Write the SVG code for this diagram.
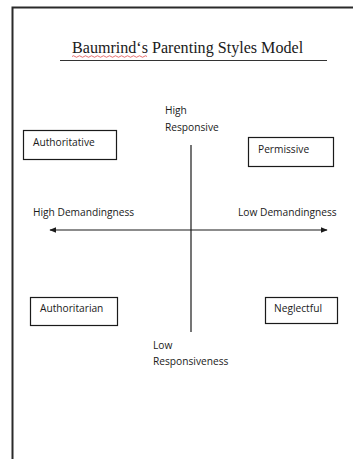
<svg xmlns="http://www.w3.org/2000/svg" width="353" height="459" viewBox="0 0 353 459">
  <style>
    .lbl { font-family: "Open Sans", "Liberation Sans", sans-serif; font-size: 10.2px; fill: #1a1a1a; }
    .box { fill: #ffffff; stroke: #1a1a1a; stroke-width: 1.2; }
    .axis { stroke: #1a1a1a; stroke-width: 1.2; fill: none; }
  </style>
  <defs>
    <marker id="arrow" viewBox="0 0 10 10" refX="9" refY="5" markerWidth="7" markerHeight="7" orient="auto-start-reverse" markerUnits="userSpaceOnUse">
      <path d="M0,1 L10,5 L0,9 Z" fill="#1a1a1a"/>
    </marker>
  </defs>
  <rect width="353" height="459" fill="#ffffff"/>
  <!-- page border -->
  <path d="M12.5,459 V7.5 H353" fill="none" stroke="#2a2a2a" stroke-width="2"/>

  <!-- title with spell-check squiggle under the name -->
  <g id="title">
    <text x="72" y="53" font-family="Liberation Serif, serif" font-size="16.1px" fill="#1a1a1a">Baumrind‘s Parenting Styles Model</text>
    <path d="M72,56.5 q1.5,-1.5 3,0 t3,0 t3,0 t3,0 t3,0 t3,0 t3,0 t3,0 t3,0 t3,0 t3,0 t3,0 t3,0 t3,0 t3,0 t3,0 t3,0 t3,0 t3,0 t3,0 t3,0 t3,0 t3,0 t3,0 t3,0" fill="none" stroke="#d33" stroke-width="0.7"/>
    <line x1="60" y1="60.5" x2="327" y2="60.5" stroke="#333" stroke-width="1.2"/>
  </g>

  <!-- axes -->
  <g id="connectors">
    <line class="axis" x1="191" y1="145" x2="191" y2="332"/>
    <line class="axis" x1="50" y1="230" x2="327" y2="230" marker-start="url(#arrow)" marker-end="url(#arrow)"/>
  </g>

  <g id="high-responsive">
    <text class="lbl" x="165" y="114">High</text>
    <text class="lbl" x="165" y="131">Responsive</text>
  </g>
  <g id="low-responsiveness">
    <text class="lbl" x="153" y="349">Low</text>
    <text class="lbl" x="153" y="365">Responsiveness</text>
  </g>
  <g id="high-demandingness">
    <text class="lbl" x="33" y="216">High Demandingness</text>
  </g>
  <g id="low-demandingness">
    <text class="lbl" x="238" y="216">Low Demandingness</text>
  </g>

  <g id="authoritative">
    <rect class="box" x="23.5" y="130.5" width="93" height="29"/>
    <text class="lbl" x="33" y="146">Authoritative</text>
  </g>
  <g id="permissive">
    <rect class="box" x="248.5" y="137.5" width="85" height="29"/>
    <text class="lbl" x="258" y="153">Permissive</text>
  </g>
  <g id="authoritarian">
    <rect class="box" x="30.5" y="297.5" width="87" height="28"/>
    <text class="lbl" x="40" y="312">Authoritarian</text>
  </g>
  <g id="neglectful">
    <rect class="box" x="265.5" y="297.5" width="72" height="26"/>
    <text class="lbl" x="274" y="312">Neglectful</text>
  </g>
</svg>
